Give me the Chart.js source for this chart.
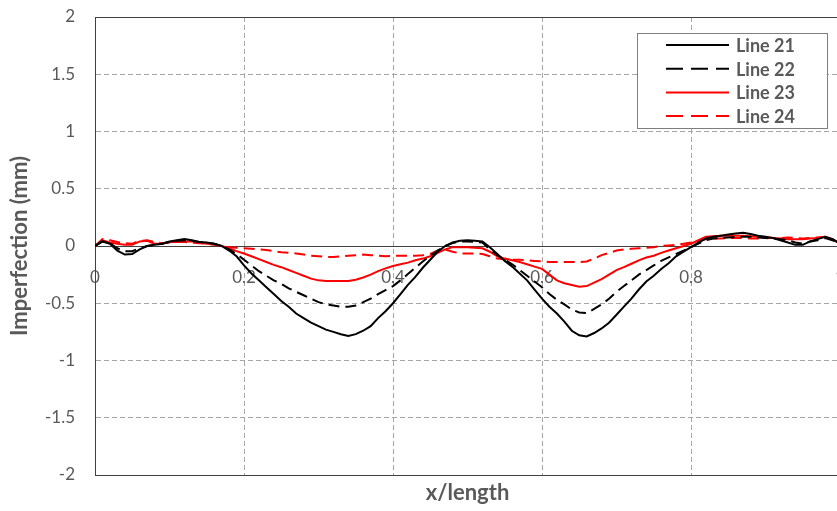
<!DOCTYPE html>
<html>
<head>
<meta charset="utf-8">
<script src="https://cdn.jsdelivr.net/npm/chart.js@4.4.1/dist/chart.umd.min.js"></script>
<style>
  html, body { margin: 0; padding: 0; background: #fff; overflow: hidden; }
  #wrap { width: 845px; height: 511px; }
</style>
</head>
<body>
<div id="wrap"><canvas id="chart"></canvas></div>
<script>
// x/length positions of the measured points
const xValues = [
  0.00, 0.01, 0.02, 0.03, 0.04, 0.05, 0.06, 0.07, 0.08, 0.09,
  0.10, 0.11, 0.12, 0.13, 0.14, 0.15, 0.16, 0.17, 0.18, 0.19,
  0.20, 0.21, 0.22, 0.23, 0.24, 0.25, 0.26, 0.27, 0.28, 0.29,
  0.30, 0.31, 0.32, 0.33, 0.34, 0.35, 0.36, 0.37, 0.38, 0.39,
  0.40, 0.41, 0.42, 0.43, 0.44, 0.45, 0.46, 0.47, 0.48, 0.49,
  0.50, 0.51, 0.52, 0.53, 0.54, 0.55, 0.56, 0.57, 0.58, 0.59,
  0.60, 0.61, 0.62, 0.63, 0.64, 0.65, 0.66, 0.67, 0.68, 0.69,
  0.70, 0.71, 0.72, 0.73, 0.74, 0.75, 0.76, 0.77, 0.78, 0.79,
  0.80, 0.81, 0.82, 0.83, 0.84, 0.85, 0.86, 0.87, 0.88, 0.89,
  0.90, 0.91, 0.92, 0.93, 0.94, 0.95, 0.96, 0.97, 0.98, 0.99,
  1.00
];

// imperfection in mm
const line21 = [
  0, 0.04, 0.02, -0.04, -0.075, -0.07, -0.03, 0.0, 0.01, 0.02,
  0.04, 0.05, 0.06, 0.05, 0.035, 0.03, 0.02, 0.0, -0.04, -0.09,
  -0.17, -0.24, -0.30, -0.36, -0.42, -0.48, -0.53, -0.59, -0.63, -0.67,
  -0.70, -0.73, -0.75, -0.77, -0.785, -0.77, -0.74, -0.70, -0.63, -0.57,
  -0.50, -0.42, -0.34, -0.27, -0.19, -0.12, -0.05, 0.0, 0.03, 0.045,
  0.05, 0.045, 0.04, -0.01, -0.07, -0.13, -0.18, -0.24, -0.30, -0.38,
  -0.46, -0.53, -0.59, -0.66, -0.74, -0.78, -0.79, -0.76, -0.72, -0.67,
  -0.60, -0.53, -0.46, -0.38, -0.31, -0.26, -0.20, -0.15, -0.09, -0.05,
  -0.01, 0.03, 0.065, 0.08, 0.09, 0.10, 0.11, 0.115, 0.105, 0.09,
  0.08, 0.07, 0.05, 0.03, 0.01, 0.01, 0.04, 0.06, 0.08, 0.06,
  0.02
];
const line22 = [
  0, 0.04, 0.025, -0.02, -0.045, -0.045, -0.02, 0.0, 0.01, 0.02,
  0.035, 0.045, 0.05, 0.045, 0.035, 0.03, 0.02, 0.0, -0.03, -0.07,
  -0.12, -0.17, -0.22, -0.26, -0.30, -0.33, -0.37, -0.40, -0.43, -0.46,
  -0.49, -0.51, -0.52, -0.53, -0.53, -0.52, -0.49, -0.46, -0.42, -0.385,
  -0.35, -0.30, -0.245, -0.19, -0.135, -0.085, -0.04, 0.0, 0.025, 0.04,
  0.04, 0.035, 0.03, -0.03, -0.08, -0.12, -0.16, -0.21, -0.26, -0.31,
  -0.36, -0.42, -0.47, -0.51, -0.555, -0.58, -0.585, -0.55, -0.51, -0.46,
  -0.40, -0.35, -0.30, -0.25, -0.21, -0.17, -0.13, -0.10, -0.07, -0.04,
  -0.01, 0.02, 0.05, 0.065, 0.07, 0.075, 0.08, 0.08, 0.08, 0.075,
  0.07, 0.065, 0.06, 0.05, 0.03, 0.02, 0.04, 0.05, 0.07, 0.05,
  0.02
];
const line23 = [
  0, 0.05, 0.03, 0.02, 0.01, 0.01, 0.04, 0.045, 0.02, 0.02,
  0.035, 0.035, 0.04, 0.04, 0.03, 0.02, 0.015, 0.0, -0.02, -0.045,
  -0.065, -0.09, -0.115, -0.14, -0.165, -0.185, -0.21, -0.235, -0.26, -0.285,
  -0.30, -0.305, -0.305, -0.305, -0.305, -0.295, -0.275, -0.25, -0.22, -0.195,
  -0.175, -0.16, -0.145, -0.125, -0.11, -0.09, -0.06, -0.03, -0.01, -0.01,
  -0.01, -0.015, -0.02, -0.05, -0.09, -0.11, -0.125, -0.14, -0.16, -0.18,
  -0.20, -0.25, -0.30, -0.325, -0.34, -0.355, -0.35, -0.32, -0.29, -0.25,
  -0.21, -0.185, -0.155, -0.125, -0.10, -0.085, -0.06, -0.04, -0.02, 0.0,
  0.02, 0.05, 0.08, 0.085, 0.09, 0.09, 0.09, 0.09, 0.085, 0.08,
  0.075, 0.07, 0.065, 0.06, 0.06, 0.06, 0.065, 0.07, 0.08, 0.06,
  0.02
];
const line24 = [
  0, 0.06, 0.05, 0.035, 0.025, 0.02, 0.045, 0.05, 0.035, 0.025,
  0.03, 0.035, 0.035, 0.03, 0.025, 0.02, 0.01, 0.0, -0.01, -0.015,
  -0.02, -0.025, -0.03, -0.035, -0.045, -0.055, -0.06, -0.065, -0.075, -0.085,
  -0.09, -0.095, -0.095, -0.09, -0.085, -0.08, -0.075, -0.08, -0.085, -0.09,
  -0.087, -0.085, -0.085, -0.085, -0.08, -0.07, -0.04, -0.03, -0.05, -0.065,
  -0.065, -0.065, -0.07, -0.09, -0.11, -0.115, -0.12, -0.12, -0.125, -0.13,
  -0.135, -0.14, -0.14, -0.14, -0.14, -0.14, -0.135, -0.11, -0.08, -0.06,
  -0.04, -0.03, -0.025, -0.02, -0.015, -0.01, 0.0, 0.005, 0.01, 0.02,
  0.03, 0.045, 0.06, 0.065, 0.065, 0.07, 0.07, 0.07, 0.065, 0.065,
  0.07, 0.07, 0.07, 0.075, 0.07, 0.065, 0.07, 0.075, 0.08, 0.06,
  0.02
];

const seriesNames = ['Line 21', 'Line 22', 'Line 23', 'Line 24'];

const textGray = '#595959';
const axisDark = '#404040';
const gridGray = '#a6a6a6';
const clear = 'rgba(0,0,0,0)';
const fontFamily = 'Lato, "Open Sans", sans-serif';

function toPoints(values) {
  return xValues.map((x, i) => ({ x: x, y: values[i] }));
}

// "0.6000000001" -> "0.6", "2.0" -> "2"
function plainNumber(value) {
  return String(parseFloat(Number(value).toFixed(2)));
}

// legend drawn inside the plot, top right, with a framed white box
const boxLegend = {
  id: 'boxLegend',
  afterDraw(chart) {
    const ctx = chart.ctx;
    const left = 637, top = 33, w = 190, h = 95;
    ctx.save();
    ctx.fillStyle = '#ffffff';
    ctx.fillRect(left, top, w, h);
    ctx.strokeStyle = '#7f7f7f';
    ctx.lineWidth = 1;
    ctx.strokeRect(left + 0.5, top + 0.5, w, h);
    chart.data.datasets.forEach((ds, i) => {
      const y = top + 12 + i * 23.7;
      ctx.beginPath();
      ctx.strokeStyle = ds.borderColor;
      ctx.lineWidth = 2;
      ctx.setLineDash(ds.borderDash.length ? [17, 8] : []);
      ctx.moveTo(666, y);
      ctx.lineTo(729, y);
      ctx.stroke();
      ctx.setLineDash([]);
      ctx.fillStyle = textGray;
      ctx.font = 'bold 18px ' + fontFamily;
      ctx.textBaseline = 'middle';
      ctx.textAlign = 'left';
      ctx.fillText(ds.label, 736, y + 1);
    });
    ctx.restore();
  }
};

// solid frame around the plot area
const plotFrame = {
  id: 'plotFrame',
  beforeDatasetsDraw(chart) {
    const a = chart.chartArea;
    const ctx = chart.ctx;
    ctx.save();
    ctx.strokeStyle = axisDark;
    ctx.lineWidth = 1;
    ctx.strokeRect(Math.round(a.left) + 0.5, Math.round(a.top) + 0.5,
      Math.round(a.right - a.left), Math.round(a.bottom - a.top));
    ctx.restore();
  }
};

const ctx = document.getElementById('chart').getContext('2d');
new Chart(ctx, {
  type: 'line',
  data: {
    datasets: [
      { label: seriesNames[0], data: toPoints(line21), borderColor: '#000000', borderDash: [] },
      { label: seriesNames[1], data: toPoints(line22), borderColor: '#000000', borderDash: [11, 6] },
      { label: seriesNames[2], data: toPoints(line23), borderColor: '#ff0000', borderDash: [] },
      { label: seriesNames[3], data: toPoints(line24), borderColor: '#ff0000', borderDash: [11, 6] }
    ]
  },
  options: {
    responsive: true,
    maintainAspectRatio: false,
    animation: false,
    layout: { padding: { top: 17, right: 5, left: 0, bottom: 0 } },
    elements: {
      line: { borderWidth: 2, tension: 0, fill: false },
      point: { radius: 0 }
    },
    plugins: {
      legend: { display: false },
      tooltip: { enabled: false }
    },
    scales: {
      x: {
        type: 'linear',
        position: { y: 0 },
        min: 0,
        max: 1,
        // invisible tick marks give the label offset without padding the layout
        grid: { color: gridGray, lineWidth: 1, drawTicks: true, tickLength: 21, tickColor: clear },
        border: { color: axisDark, width: 1, dash: [5, 3] },
        ticks: {
          stepSize: 0.2,
          padding: 0,
          color: textGray,
          font: { family: fontFamily, size: 17 },
          callback: plainNumber
        }
      },
      x2: {
        axis: 'x',
        type: 'linear',
        position: 'bottom',
        min: 0,
        max: 1,
        grid: { display: false },
        border: { display: true, color: axisDark, width: 1 },
        ticks: { display: false },
        title: {
          display: true,
          text: 'x/length',
          color: textGray,
          font: { family: fontFamily, size: 22, weight: 'bold' },
          padding: { top: 0, bottom: 5 }
        },
        afterFit(scale) { scale.height = 36; }
      },
      y: {
        type: 'linear',
        min: -2,
        max: 2,
        grid: { color: gridGray, lineWidth: 1, drawTicks: true, tickLength: 20, tickColor: clear },
        border: { color: axisDark, width: 1, dash: [5, 3] },
        ticks: {
          stepSize: 0.5,
          padding: 0,
          color: textGray,
          font: { family: fontFamily, size: 17 },
          callback: plainNumber
        },
        title: {
          display: true,
          text: 'Imperfection (mm)',
          color: textGray,
          font: { family: fontFamily, size: 22, weight: 'bold' },
          padding: { top: 7, bottom: 0 }
        },
        afterFit(scale) { scale.width = 95; }
      }
    }
  },
  plugins: [plotFrame, boxLegend]
});
</script>
</body>
</html>
